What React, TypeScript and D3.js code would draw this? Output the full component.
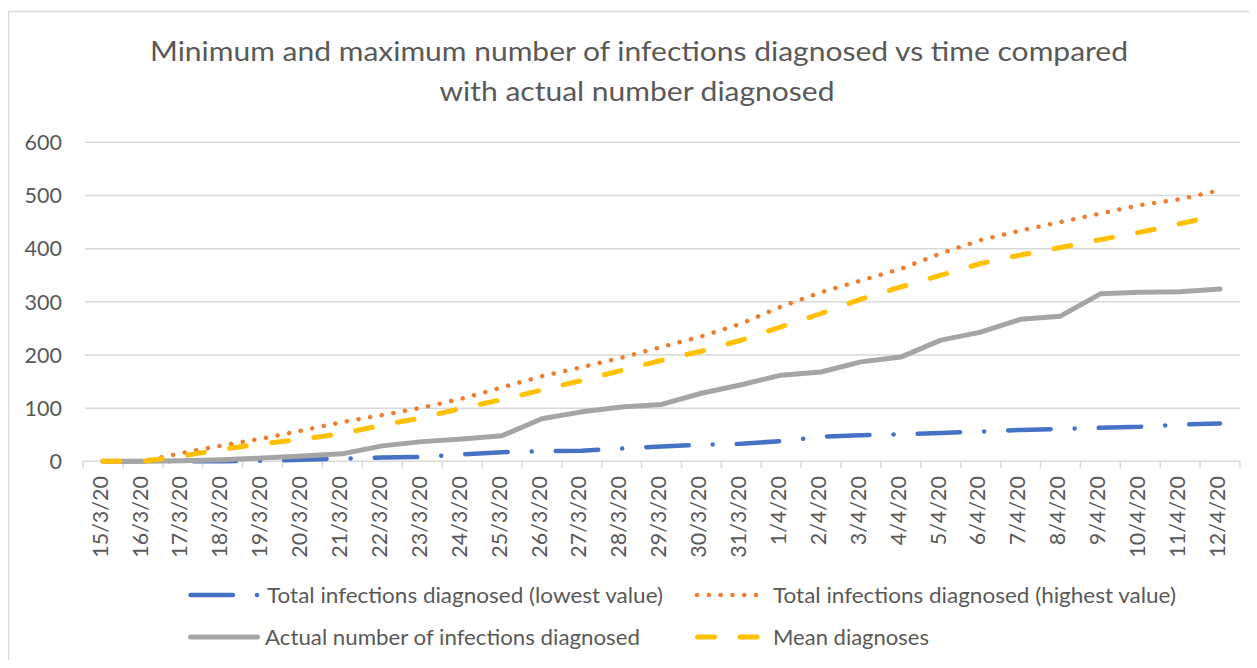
import React, { useRef, useEffect } from "react";
import * as d3 from "d3";

const dates = [
  "15/3/20", "16/3/20", "17/3/20", "18/3/20", "19/3/20", "20/3/20", "21/3/20",
  "22/3/20", "23/3/20", "24/3/20", "25/3/20", "26/3/20", "27/3/20", "28/3/20",
  "29/3/20", "30/3/20", "31/3/20", "1/4/20", "2/4/20", "3/4/20", "4/4/20",
  "5/4/20", "6/4/20", "7/4/20", "8/4/20", "9/4/20", "10/4/20", "11/4/20", "12/4/20",
];

const lowest = [0, 0, 0, 0, 1, 3, 5, 7, 8, 13, 17, 19, 20, 24, 28, 31, 33, 38, 46, 49, 51, 53, 56, 59, 61, 63, 65, 69, 71];
const highest = [0, 0, 16, 30, 43, 58, 74, 87, 101, 118, 139, 160, 177, 195, 215, 235, 259, 291, 318, 340, 362, 391, 416, 434, 450, 466, 482, 493, 510];
const actual = [0, 0, 1, 3, 6, 10, 14, 29, 37, 42, 48, 80, 93, 102, 107, 128, 144, 162, 168, 187, 196, 228, 243, 267, 273, 315, 318, 319, 324];
const mean = [0, 0, 10, 23, 33, 42, 52, 68, 82, 100, 116, 134, 152, 171, 190, 207, 228, 253, 278, 305, 328, 350, 372, 388, 402, 417, 431, 447, 463];

const yTicks = [0, 100, 200, 300, 400, 500, 600];

const seriesNames = [
  "Total infections diagnosed (lowest value)",
  "Total infections diagnosed (highest value)",
  "Actual number of infections diagnosed",
  "Mean diagnoses",
];

const FONT = "Lato, 'Open Sans', sans-serif";
const TEXT = "#595959";

const App = () => {
  const chartRef = useRef<HTMLDivElement>(null);

  useEffect(() => {
    const width = 1257;
    const height = 668;
    const left = 83;
    const right = 1240;
    const top = 142.3;
    const bottom = 461.3;

    const root = d3.select(chartRef.current);
    root.selectAll("*").remove();

    const svg = root
      .append("svg")
      .attr("width", width)
      .attr("height", height)
      .style("display", "block")
      .style("font-family", FONT);

    svg.append("rect").attr("width", width).attr("height", height).attr("fill", "#fff");

    // chart border
    svg
      .append("rect")
      .attr("x", 8.5)
      .attr("y", 11.5)
      .attr("width", 1300)
      .attr("height", 700)
      .attr("fill", "none")
      .attr("stroke", "#d9d9d9")
      .attr("stroke-width", 1.5);

    // title
    const title = svg
      .append("g")
      .attr("fill", TEXT)
      .attr("font-size", 27)
      .attr("text-anchor", "middle");
    title
      .append("text")
      .attr("x", 639)
      .attr("y", 61)
      .attr("textLength", 978)
      .attr("lengthAdjust", "spacingAndGlyphs")
      .text("Minimum and maximum number of infections diagnosed vs time compared");
    title
      .append("text")
      .attr("x", 637)
      .attr("y", 101)
      .attr("textLength", 395)
      .attr("lengthAdjust", "spacingAndGlyphs")
      .text("with actual number diagnosed");

    const xScale = d3.scaleBand().domain(dates).range([left, right]);
    const yScale = d3.scaleLinear().domain([0, 600]).range([bottom, top]);

    // gridlines
    svg
      .append("g")
      .selectAll("line")
      .data(yTicks.filter((d) => d > 0))
      .enter()
      .append("line")
      .attr("x1", left + 2)
      .attr("x2", right)
      .attr("y1", (d) => yScale(d))
      .attr("y2", (d) => yScale(d))
      .attr("stroke", "#d9d9d9")
      .attr("stroke-width", 1.5);

    // y labels
    svg
      .append("g")
      .selectAll("text")
      .data(yTicks)
      .enter()
      .append("text")
      .attr("x", 62)
      .attr("y", (d) => yScale(d))
      .attr("dy", "0.36em")
      .attr("text-anchor", "end")
      .attr("font-size", 21.5)
      .attr("fill", TEXT)
      .text((d) => d);

    // x axis line + ticks
    const xAxis = svg.append("g");
    xAxis
      .append("line")
      .attr("x1", left)
      .attr("x2", right)
      .attr("y1", bottom)
      .attr("y2", bottom)
      .attr("stroke", "#d9d9d9")
      .attr("stroke-width", 1.5);
    xAxis
      .selectAll(".tick")
      .data(dates.map((d) => xScale(d) as number).concat([right]))
      .enter()
      .append("line")
      .attr("x1", (d) => d)
      .attr("x2", (d) => d)
      .attr("y1", bottom)
      .attr("y2", bottom + 7)
      .attr("stroke", "#d9d9d9")
      .attr("stroke-width", 1.5);

    // x labels, rotated
    svg
      .append("g")
      .selectAll("text")
      .data(dates)
      .enter()
      .append("text")
      .attr(
        "transform",
        (d) => `translate(${(xScale(d) as number) + xScale.bandwidth() / 2 - 3}, 476) rotate(-90)`
      )
      .attr("text-anchor", "end")
      .attr("dy", "0.36em")
      .attr("font-size", 21.5)
      .attr("fill", TEXT)
      .text((d) => d);

    const cx = (i: number) => (xScale(dates[i]) as number) + xScale.bandwidth() / 2;
    const line = d3
      .line<number>()
      .x((_, i) => cx(i))
      .y((d) => yScale(d));

    const series = [
      { values: lowest, color: "#4472C4", width: 4.5, dash: "42.5 24 0.1 24" },
      { values: highest, color: "#ED7D31", width: 4.5, dash: "0.1 11.7" },
      { values: actual, color: "#A5A5A5", width: 5, dash: null },
      { values: mean, color: "#FFC000", width: 5, dash: "17 25.5" },
    ];

    // draw order: lowest, highest, actual, mean
    series.forEach((s) => {
      svg
        .append("path")
        .datum(s.values)
        .attr("d", line)
        .attr("fill", "none")
        .attr("stroke", s.color)
        .attr("stroke-width", s.width)
        .attr("stroke-linecap", "round")
        .attr("stroke-linejoin", "round")
        .attr("stroke-dasharray", s.dash);
    });

    // legend
    const legendItems = [
      { s: series[0], name: seriesNames[0], x1: 190.5, x2: 259, tx: 267, w: 396, y: 595 },
      { s: series[1], name: seriesNames[1], x1: 697, x2: 759, tx: 773, w: 403, y: 595 },
      { s: series[2], name: seriesNames[2], x1: 190.5, x2: 257.5, tx: 265, w: 375, y: 637 },
      { s: series[3], name: seriesNames[3], x1: 697.5, x2: 758, tx: 773, w: 156, y: 637 },
    ];
    const legend = svg.append("g");
    legendItems.forEach((it) => {
      legend
        .append("line")
        .attr("x1", it.x1)
        .attr("x2", it.x2)
        .attr("y1", it.y)
        .attr("y2", it.y)
        .attr("stroke", it.s.color)
        .attr("stroke-width", it.s.width)
        .attr("stroke-linecap", "round")
        .attr("stroke-dasharray", it.s.dash);
      legend
        .append("text")
        .attr("x", it.tx)
        .attr("y", it.y)
        .attr("dy", "0.36em")
        .attr("font-size", 22)
        .attr("textLength", it.w)
        .attr("lengthAdjust", "spacingAndGlyphs")
        .attr("fill", TEXT)
        .text(it.name);
    });
  }, []);

  return <div ref={chartRef} style={{ margin: -8 }}></div>;
};

export default App;
